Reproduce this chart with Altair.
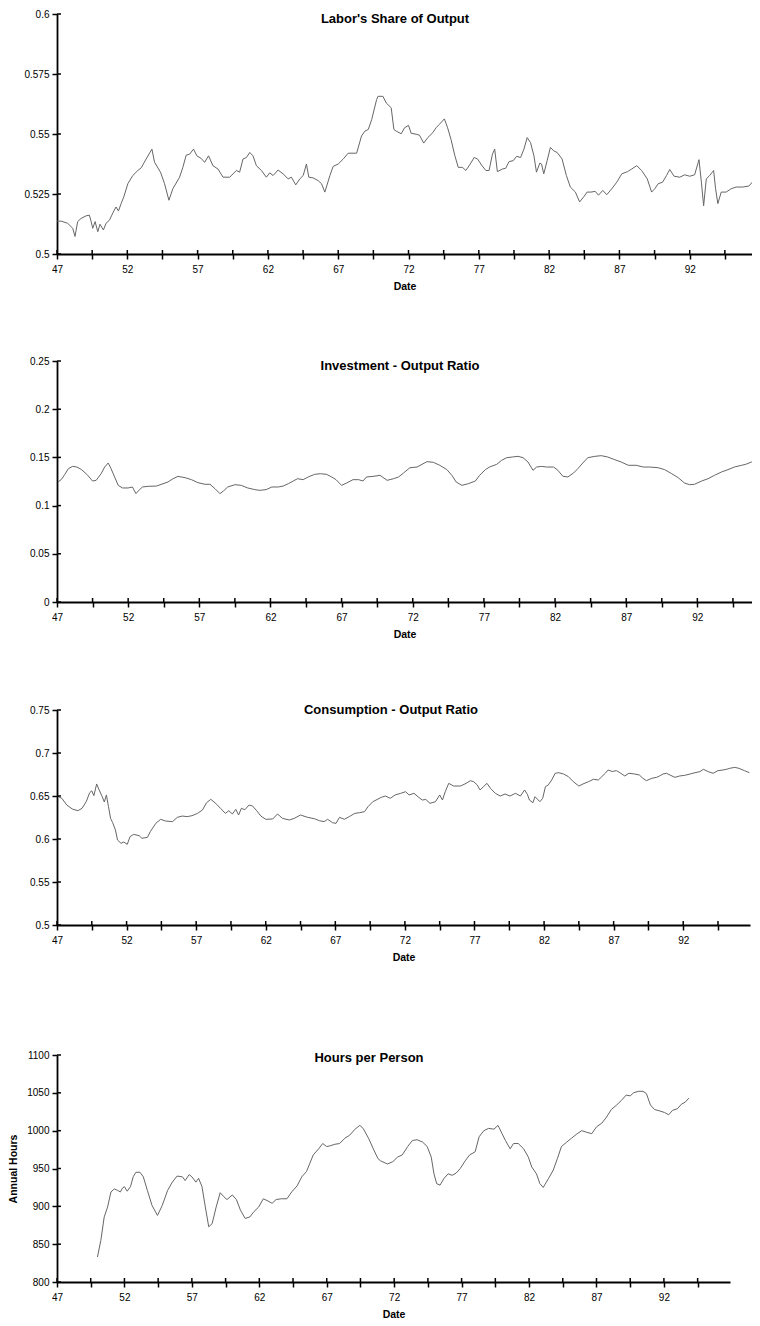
import altair as alt
import pandas as pd

# ---------------- data ----------------
labor_years = [47.00, 47.29, 47.76, 48.12, 48.28, 48.47, 48.71, 49.07, 49.30, 49.42, 49.54, 49.71, 49.90, 50.06, 50.30, 50.49, 50.73, 50.90, 51.04, 51.20, 51.37, 51.56, 51.75, 52.04, 52.39, 52.75, 52.99, 53.34, 53.75, 53.94, 54.36, 54.65, 54.96, 55.24, 55.72, 55.95, 56.19, 56.43, 56.71, 56.95, 57.26, 57.50, 57.78, 58.09, 58.45, 58.81, 59.28, 59.52, 59.76, 59.99, 60.23, 60.47, 60.71, 60.94, 61.18, 61.54, 61.89, 62.13, 62.37, 62.72, 63.08, 63.44, 63.67, 63.98, 64.27, 64.51, 64.74, 64.91, 65.22, 65.57, 65.81, 66.05, 66.41, 66.64, 67.00, 67.36, 67.71, 68.31, 68.66, 68.90, 69.14, 69.38, 69.73,
               69.83, 70.18, 70.42, 70.77, 70.96, 71.13, 71.48, 71.72, 72.00, 72.19, 72.54, 72.78, 73.08, 73.37, 73.72, 73.96, 74.19, 74.55, 74.78, 75.02, 75.30, 75.54, 75.84, 76.08, 76.39, 76.67, 76.91, 77.19, 77.50, 77.73, 77.97, 78.13, 78.32, 78.67, 78.91, 79.15, 79.45, 79.69, 79.97, 80.21, 80.44, 80.68, 80.92, 81.10, 81.34, 81.46, 81.62, 81.86, 82.09, 82.33, 82.57, 82.92, 83.23, 83.51, 83.87, 84.17, 84.46, 84.70, 84.98, 85.28, 85.51, 85.82, 86.10, 86.46, 86.81, 87.17, 87.57, 87.87, 88.23, 88.58, 88.98, 89.29, 89.52, 89.76, 90.07, 90.35, 90.58, 90.89, 91.29, 91.65, 92.00, 92.35, 92.66, 92.83, 92.99, 93.18, 93.42, 93.70, 93.84, 94.00, 94.24, 94.59, 94.95, 95.30, 95.77, 96.20, 96.53, 96.72]
labor_share = [0.5137, 0.5137, 0.5128, 0.5107, 0.5073, 0.5135, 0.5148, 0.5159, 0.5162, 0.5137, 0.5107, 0.5135, 0.5093, 0.5124, 0.5100, 0.5128, 0.5141, 0.5162, 0.5179, 0.5196, 0.5179, 0.5210, 0.5238, 0.5293, 0.5327, 0.5348, 0.5359, 0.5396, 0.5437, 0.5382, 0.5341, 0.5293, 0.5224, 0.5272, 0.5320, 0.5361, 0.5412, 0.5416, 0.5437, 0.5409, 0.5398, 0.5382, 0.5409, 0.5368, 0.5354, 0.5320, 0.5320, 0.5334, 0.5348, 0.5341, 0.5396, 0.5402, 0.5423, 0.5409, 0.5368, 0.5348, 0.5320, 0.5338, 0.5327, 0.5350, 0.5334, 0.5313, 0.5320, 0.5288, 0.5313, 0.5327, 0.5375, 0.5320, 0.5317, 0.5306, 0.5293, 0.5258, 0.5327, 0.5365, 0.5375, 0.5396, 0.5420, 0.5420, 0.5492, 0.5512, 0.5519, 0.5560, 0.5643,
               0.5657, 0.5657, 0.5629, 0.5609, 0.5519, 0.5512, 0.5501, 0.5526, 0.5536, 0.5503, 0.5499, 0.5495, 0.5462, 0.5485, 0.5505, 0.5526, 0.5540, 0.5563, 0.5526, 0.5478, 0.5409, 0.5361, 0.5361, 0.5348, 0.5375, 0.5402, 0.5396, 0.5371, 0.5348, 0.5348, 0.5416, 0.5437, 0.5343, 0.5354, 0.5357, 0.5385, 0.5389, 0.5407, 0.5402, 0.5437, 0.5485, 0.5464, 0.5409, 0.5341, 0.5379, 0.5375, 0.5334, 0.5389, 0.5444, 0.5430, 0.5423, 0.5396, 0.5327, 0.5279, 0.5258, 0.5217, 0.5238, 0.5258, 0.5258, 0.5261, 0.5245, 0.5265, 0.5247, 0.5272, 0.5299, 0.5334, 0.5343, 0.5354, 0.5368, 0.5348, 0.5313, 0.5258, 0.5272, 0.5293, 0.5299, 0.5327, 0.5352, 0.5324, 0.5320, 0.5330, 0.5324, 0.5330, 0.5393, 0.5299, 0.5201, 0.5313, 0.5327, 0.5348, 0.5272, 0.5210, 0.5258, 0.5258, 0.5272, 0.5279, 0.5279, 0.5283, 0.5304, 0.5293]

inv_years = [47.07, 47.30, 47.55, 47.80, 48.10, 48.40, 48.70, 49.10, 49.50, 49.75, 50.10, 50.35, 50.60, 50.80, 51.05, 51.30, 51.60, 52.00, 52.30, 52.55, 52.70, 53.00, 53.40, 54.00, 54.45, 54.80, 55.15, 55.50, 56.00, 56.45, 56.90, 57.40, 57.75, 58.10, 58.45, 58.70, 59.00, 59.50, 59.95, 60.40, 60.90, 61.25, 61.70, 62.10, 62.55, 62.90, 63.25, 63.60, 63.90, 64.30, 64.65, 65.10, 65.50, 65.95, 66.30, 66.60, 67.00, 67.35, 67.80, 68.20, 68.50, 68.75, 69.20, 69.70,
             70.20, 70.65, 71.00, 71.35, 71.80, 72.30, 72.65, 73.00, 73.45, 73.90, 74.40, 74.75, 75.05, 75.45, 75.90, 76.40, 76.70, 77.10, 77.40, 77.90, 78.25, 78.60, 79.00, 79.40, 79.75, 80.10, 80.45, 80.70, 81.05, 81.40, 81.90, 82.20, 82.55, 82.90, 83.30, 83.60, 83.95, 84.30, 84.80, 85.25, 85.70, 86.20, 86.65, 87.15, 87.70, 88.20, 88.65, 89.25, 89.70, 90.20, 90.65, 91.10, 91.45, 91.80, 92.30, 92.75, 93.20, 93.70, 94.15, 94.60, 95.10, 95.40, 95.80, 96.10, 96.40]
inv_ratio = [0.1245, 0.1270, 0.1324, 0.1383, 0.1407, 0.1400, 0.1376, 0.1324, 0.1255, 0.1262, 0.1331, 0.1400, 0.1442, 0.1383, 0.1297, 0.1210, 0.1183, 0.1183, 0.1193, 0.1124, 0.1150, 0.1193, 0.1200, 0.1203, 0.1227, 0.1245, 0.1279, 0.1303, 0.1290, 0.1269, 0.1238, 0.1221, 0.1221, 0.1176, 0.1124, 0.1152, 0.1193, 0.1217, 0.1210, 0.1183, 0.1166, 0.1158, 0.1166, 0.1193, 0.1193, 0.1203, 0.1227, 0.1255, 0.1279, 0.1269, 0.1297, 0.1324, 0.1331, 0.1324, 0.1297, 0.1270, 0.1210, 0.1234, 0.1269, 0.1269, 0.1255, 0.1297, 0.1303, 0.1314,
             0.1262, 0.1279, 0.1297, 0.1338, 0.1393, 0.1400, 0.1428, 0.1456, 0.1449, 0.1418, 0.1373, 0.1314, 0.1245, 0.1210, 0.1227, 0.1255, 0.1314, 0.1373, 0.1400, 0.1428, 0.1470, 0.1497, 0.1504, 0.1511, 0.1497, 0.1452, 0.1366, 0.1400, 0.1407, 0.1400, 0.1400, 0.1366, 0.1304, 0.1297, 0.1338, 0.1383, 0.1442, 0.1497, 0.1511, 0.1518, 0.1504, 0.1476, 0.1452, 0.1418, 0.1418, 0.1400, 0.1400, 0.1393, 0.1373, 0.1331, 0.1290, 0.1234, 0.1217, 0.1221, 0.1255, 0.1279, 0.1314, 0.1349, 0.1373, 0.1400, 0.1418, 0.1428, 0.1452, 0.1487, 0.1504]

cons_years = [47.00, 47.35, 47.70, 48.10, 48.50, 48.80, 49.10, 49.35, 49.50, 49.65, 49.85, 50.00, 50.25, 50.40, 50.55, 50.70, 50.85, 51.00, 51.20, 51.35, 51.60, 51.80, 52.05, 52.25, 52.50, 52.90, 53.10, 53.50, 53.70, 54.10, 54.45, 54.80, 55.30, 55.65, 56.00, 56.35, 56.70, 57.10, 57.45, 57.75, 58.05, 58.40, 58.75, 59.10, 59.35, 59.60, 59.85, 60.05, 60.25, 60.50, 60.80, 61.05, 61.35, 61.65, 62.00, 62.50, 62.85, 63.20, 63.70, 64.05, 64.50, 65.00, 65.50, 65.85, 66.20, 66.45, 66.80, 67.05, 67.30, 67.65, 68.00, 68.40, 68.75, 69.10, 69.35, 69.70, 70.30,
              70.60, 70.95, 71.30, 71.70, 72.05, 72.30, 72.65, 73.00, 73.25, 73.50, 73.80, 74.20, 74.50, 74.70, 74.90, 75.15, 75.50, 76.00, 76.40, 76.70, 76.95, 77.20, 77.40, 77.65, 77.90, 78.15, 78.50, 78.85, 79.20, 79.55, 79.95, 80.30, 80.60, 80.80, 80.95, 81.20, 81.35, 81.70, 81.90, 82.10, 82.30, 82.55, 82.80, 83.05, 83.40, 83.75, 84.10, 84.50, 84.80, 85.20, 85.55, 85.90, 86.15, 86.40, 86.60, 86.90, 87.20, 87.45, 87.80, 88.10, 88.50, 88.85, 89.10, 89.35, 89.75, 90.10, 90.30, 90.55, 90.80, 91.05, 91.40, 91.75, 92.10, 92.50, 92.85, 93.20, 93.45, 93.80, 94.15, 94.50, 94.85, 95.10, 95.35, 95.70, 96.00, 96.40, 96.75]
cons_ratio = [0.6500, 0.6473, 0.6395, 0.6349, 0.6329, 0.6357, 0.6434, 0.6539, 0.6560, 0.6504, 0.6640, 0.6581, 0.6492, 0.6430, 0.6512, 0.6376, 0.6240, 0.6190, 0.6105, 0.5988, 0.5950, 0.5965, 0.5938, 0.6027, 0.6054, 0.6039, 0.6008, 0.6019, 0.6085, 0.6182, 0.6229, 0.6209, 0.6202, 0.6252, 0.6267, 0.6260, 0.6271, 0.6298, 0.6337, 0.6422, 0.6461, 0.6415, 0.6357, 0.6298, 0.6329, 0.6291, 0.6345, 0.6279, 0.6357, 0.6340, 0.6395, 0.6384, 0.6329, 0.6267, 0.6229, 0.6233, 0.6291, 0.6240, 0.6221, 0.6240, 0.6279, 0.6252, 0.6236, 0.6213, 0.6202, 0.6229, 0.6190, 0.6182, 0.6252, 0.6229, 0.6260, 0.6298, 0.6306, 0.6318, 0.6376, 0.6434, 0.6484,
              0.6500, 0.6473, 0.6512, 0.6531, 0.6550, 0.6512, 0.6531, 0.6484, 0.6453, 0.6460, 0.6415, 0.6434, 0.6512, 0.6453, 0.6550, 0.6647, 0.6616, 0.6616, 0.6647, 0.6678, 0.6666, 0.6628, 0.6570, 0.6609, 0.6647, 0.6589, 0.6531, 0.6500, 0.6523, 0.6500, 0.6531, 0.6500, 0.6570, 0.6520, 0.6453, 0.6422, 0.6492, 0.6434, 0.6473, 0.6609, 0.6628, 0.6686, 0.6764, 0.6771, 0.6756, 0.6725, 0.6667, 0.6616, 0.6640, 0.6667, 0.6694, 0.6686, 0.6725, 0.6764, 0.6802, 0.6785, 0.6795, 0.6771, 0.6733, 0.6764, 0.6756, 0.6744, 0.6706, 0.6678, 0.6706, 0.6717, 0.6733, 0.6756, 0.6764, 0.6744, 0.6717, 0.6733, 0.6740, 0.6756, 0.6771, 0.6783, 0.6810, 0.6783, 0.6764, 0.6795, 0.6802, 0.6810, 0.6822, 0.6833, 0.6822, 0.6795, 0.6771]

hours_years = [50.00, 50.25, 50.50, 50.75, 51.00, 51.25, 51.50, 51.70, 51.85, 52.00, 52.20, 52.45, 52.65, 52.85, 53.15, 53.40, 53.70, 54.05, 54.45, 54.80, 55.20, 55.55, 55.90, 56.30, 56.50, 56.80, 57.00, 57.30, 57.50, 57.75, 58.00, 58.25, 58.50, 58.80, 59.10, 59.35, 59.60, 60.00, 60.30, 60.60, 60.95, 61.30, 61.60, 61.95, 62.30, 62.65, 62.95, 63.25, 63.65, 64.05, 64.40, 64.80, 65.15, 65.50, 65.75, 66.00, 66.40, 66.70, 67.00, 67.25, 67.60, 67.95, 68.35, 68.70, 69.10, 69.45, 69.70, 70.10, 70.45, 70.80,
               71.00, 71.50, 71.90, 72.25, 72.60, 73.00, 73.35, 73.70, 74.10, 74.45, 74.75, 74.95, 75.15, 75.40, 75.70, 76.00, 76.30, 76.60, 76.90, 77.30, 77.60, 78.00, 78.30, 78.65, 79.00, 79.40, 79.70, 80.00, 80.25, 80.60, 80.85, 81.20, 81.60, 81.95, 82.20, 82.55, 82.80, 83.05, 83.45, 83.80, 84.10, 84.40, 84.80, 85.15, 85.50, 85.90, 86.25, 86.65, 87.00, 87.40, 87.75, 88.10, 88.50, 88.85, 89.20, 89.50, 89.75, 90.10, 90.45, 90.70, 91.00, 91.30, 91.70, 92.05, 92.35, 92.65, 93.00, 93.30, 93.60, 93.85]
hours_per_person = [833, 855, 886, 899, 919, 923, 921, 919, 924, 926, 920, 926, 939, 945, 945, 939, 921, 901, 888, 901, 921, 932, 940, 939, 934, 942, 939, 932, 937, 926, 899, 873, 877, 899, 918, 913, 909, 915, 909, 895, 884, 886, 893, 899, 910, 907, 904, 909, 910, 910, 919, 927, 939, 946, 957, 968, 976, 983, 979, 980, 982, 983, 990, 994, 1002, 1007, 1003, 990, 976, 963,
                    960, 956, 959, 965, 968, 979, 987, 988, 985, 979, 965, 943, 930, 928, 937, 943, 941, 944, 950, 961, 968, 972, 992, 1000, 1003, 1002, 1007, 996, 987, 976, 983, 983, 976, 965, 952, 943, 930, 925, 937, 948, 963, 979, 985, 990, 995, 1000, 998, 996, 1005, 1010, 1018, 1028, 1034, 1040, 1047, 1046, 1050, 1052, 1052, 1049, 1034, 1028, 1026, 1024, 1021, 1027, 1029, 1035, 1038, 1043]

x_ticks = [47, 49.5, 52, 54.5, 57, 59.5, 62, 64.5, 67, 69.5, 72, 74.5, 77, 79.5, 82, 84.5, 87, 89.5, 92, 94.5]
labor_ticks = [0.5, 0.525, 0.55, 0.575, 0.6]
ratio_ticks_inv = [0, 0.05, 0.1, 0.15, 0.2, 0.25]
ratio_ticks_cons = [0.5, 0.55, 0.6, 0.65, 0.7, 0.75]
hours_ticks = [800, 850, 900, 950, 1000, 1050, 1100]

FONT = "Liberation Sans"
LINE = "#666666"


def panel(years, vals, ydom, yticks, w, h, xmax, title, tx, ty, ytitle=None, spacer=0):
    df = pd.DataFrame({"year": years, "value": vals})
    xscale = alt.Scale(domain=[47, xmax], nice=False, zero=False)
    yscale = alt.Scale(domain=ydom, nice=False, zero=False)
    xaxis = alt.Axis(values=x_ticks, title="Date", labelFlush=False,
                     labelExpr="datum.value % 5 == 2 ? format(datum.value, 'd') : ''",
                     labelPadding=5, titlePadding=7)
    if ytitle:
        yaxis = alt.Axis(values=yticks, format=".6~g", title=ytitle, labelPadding=3,
                         titlePadding=8, labelFlush=False)
    else:
        yaxis = alt.Axis(values=yticks, format=".6~g", title=None, labelPadding=3,
                         labelFlush=False)
    line = alt.Chart(df).mark_line(color=LINE, strokeWidth=1, clip=True).encode(
        x=alt.X("year:Q", scale=xscale, axis=xaxis),
        y=alt.Y("value:Q", scale=yscale, axis=yaxis),
    )
    # inner half of the crossing tick marks
    xt = alt.Chart(pd.DataFrame({"year": x_ticks})).mark_rule(color="black", strokeWidth=1.5).encode(
        x=alt.X("year:Q", scale=xscale, axis=xaxis), y=alt.value(h - 4), y2=alt.value(h))
    yt = alt.Chart(pd.DataFrame({"value": yticks})).mark_rule(color="black", strokeWidth=1.5).encode(
        y=alt.Y("value:Q", scale=yscale, axis=yaxis), x=alt.value(0), x2=alt.value(4))
    ttl = alt.Chart(pd.DataFrame({"t": [title]})).mark_text(
        font=FONT, fontSize=13, fontWeight="bold", color="black", align="center",
        baseline="alphabetic").encode(text="t:N", x=alt.value(tx), y=alt.value(ty))
    layers = [line, xt, yt, ttl]
    if spacer:
        sp = alt.Chart(pd.DataFrame({"t": [0]})).mark_rule(opacity=0).encode(
            x=alt.value(0), y=alt.value(-spacer), y2=alt.value(0))
        layers.append(sp)
    return alt.layer(*layers).properties(width=w, height=h)


p1 = panel(labor_years, labor_share, [0.5, 0.6], labor_ticks, 695, 240, 96.43,
           "Labor's Share of Output", 338, 9)
p2 = panel(inv_years, inv_ratio, [0, 0.25], ratio_ticks_inv, 695, 241, 95.84,
           "Investment - Output Ratio", 343, 9)
p3 = panel(cons_years, cons_ratio, [0.5, 0.75], ratio_ticks_cons, 693, 215, 96.8,
           "Consumption - Output Ratio", 334, 4)
p4 = panel(hours_years, hours_per_person, [800, 1100], hours_ticks, 673, 227, 96.9,
           "Hours per Person", 312, 7, ytitle="Annual Hours", spacer=28)

chart = alt.vconcat(p1, p2, p3, p4, spacing=64).properties(
    padding={"left": 0, "top": 1, "right": 0, "bottom": 0}
).configure_view(stroke=None).configure_axis(
    grid=False, domainColor="black", domainWidth=1.8, tickColor="black", tickWidth=1.5,
    tickSize=5, labelFont=FONT, labelFontSize=10, labelColor="black",
    titleFont=FONT, titleFontSize=10.5, titleFontWeight="bold", titleColor="black"
)

chart.save("out.html", embed_options={"renderer": "svg", "actions": False})
